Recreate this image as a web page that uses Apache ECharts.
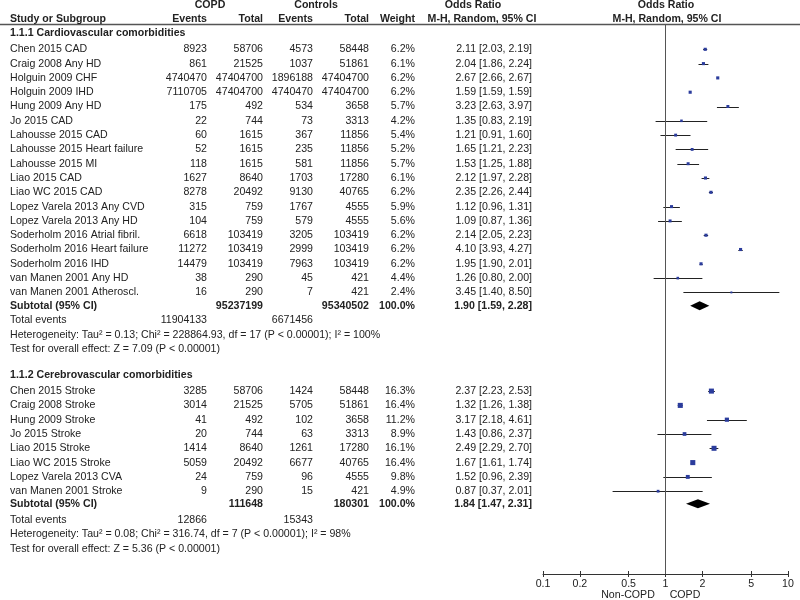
<!DOCTYPE html>
<html><head><meta charset="utf-8">
<script src="https://cdn.jsdelivr.net/npm/echarts@6/dist/echarts.min.js"></script>
<style>html,body{margin:0;padding:0;background:#fff}#c{width:800px;height:600px}</style>
</head><body><div id="c"></div>
<script>
// ---- Data ----
const names1 = ["Chen 2015 CAD","Craig 2008 Any HD","Holguin 2009 CHF","Holguin 2009 IHD","Hung 2009 Any HD","Jo 2015 CAD","Lahousse 2015 CAD","Lahousse 2015 Heart failure","Lahousse 2015 MI","Liao 2015 CAD","Liao WC 2015 CAD","Lopez Varela 2013 Any CVD","Lopez Varela 2013 Any HD","Soderholm 2016 Atrial fibril.","Soderholm 2016 Heart failure","Soderholm 2016 IHD","van Manen 2001 Any HD","van Manen 2001 Atheroscl."];
const copdEv1 = [8923,861,4740470,7110705,175,22,60,52,118,1627,8278,315,104,6618,11272,14479,38,16];
const copdTot1 = [58706,21525,47404700,47404700,492,744,1615,1615,1615,8640,20492,759,759,103419,103419,103419,290,290];
const ctrlEv1 = [4573,1037,1896188,4740470,534,73,367,235,581,1703,9130,1767,579,3205,2999,7963,45,7];
const ctrlTot1 = [58448,51861,47404700,47404700,3658,3313,11856,11856,11856,17280,40765,4555,4555,103419,103419,103419,421,421];
const weight1 = [6.2,6.1,6.2,6.2,5.7,4.2,5.4,5.2,5.7,6.1,6.2,5.9,5.6,6.2,6.2,6.2,4.4,2.4];
const or1 = [2.11,2.04,2.67,1.59,3.23,1.35,1.21,1.65,1.53,2.12,2.35,1.12,1.09,2.14,4.10,1.95,1.26,3.45];
const lo1 = [2.03,1.86,2.66,1.59,2.63,0.83,0.91,1.21,1.25,1.97,2.26,0.96,0.87,2.05,3.93,1.90,0.80,1.40];
const hi1 = [2.19,2.24,2.67,1.59,3.97,2.19,1.60,2.23,1.88,2.28,2.44,1.31,1.36,2.23,4.27,2.01,2.00,8.50];
const sub1 = {copdTot:95237199, ctrlTot:95340502, or:1.90, lo:1.59, hi:2.28, copdEvents:11904133, ctrlEvents:6671456};
const het1 = "Heterogeneity: Tau\u00b2 = 0.13; Chi\u00b2 = 228864.93, df = 17 (P < 0.00001); I\u00b2 = 100%";
const test1 = "Test for overall effect: Z = 7.09 (P < 0.00001)";

const names2 = ["Chen 2015 Stroke","Craig 2008 Stroke","Hung 2009 Stroke","Jo 2015 Stroke","Liao 2015 Stroke","Liao WC 2015 Stroke","Lopez Varela 2013 CVA","van Manen 2001 Stroke"];
const copdEv2 = [3285,3014,41,20,1414,5059,24,9];
const copdTot2 = [58706,21525,492,744,8640,20492,759,290];
const ctrlEv2 = [1424,5705,102,63,1261,6677,96,15];
const ctrlTot2 = [58448,51861,3658,3313,17280,40765,4555,421];
const weight2 = [16.3,16.4,11.2,8.9,16.1,16.4,9.8,4.9];
const or2 = [2.37,1.32,3.17,1.43,2.49,1.67,1.52,0.87];
const lo2 = [2.23,1.26,2.18,0.86,2.29,1.61,0.96,0.37];
const hi2 = [2.53,1.38,4.61,2.37,2.70,1.74,2.39,2.01];
const sub2 = {copdTot:111648, ctrlTot:180301, or:1.84, lo:1.47, hi:2.31, copdEvents:12866, ctrlEvents:15343};
const het2 = "Heterogeneity: Tau\u00b2 = 0.08; Chi\u00b2 = 316.74, df = 7 (P < 0.00001); I\u00b2 = 98%";
const test2 = "Test for overall effect: Z = 5.36 (P < 0.00001)";

const section1 = "1.1.1 Cardiovascular comorbidities";
const section2 = "1.1.2 Cerebrovascular comorbidities";
const tickValues = [0.1,0.2,0.5,1,2,5,10];

// ---- Layout (row positions) ----
const FONT = "Liberation Sans, Arial, Helvetica, sans-serif";
const FS = 10.6;
const COL = {name:10, cEv:207, cTot:263, kEv:313, kTot:369, w:415, or:532};
const fmtCI = (o,l,h)=> o.toFixed(2)+" ["+l.toFixed(2)+", "+h.toFixed(2)+"]";

const textRows = [];
const squares = [], cis = [], diamonds = [];

function buildSection(title, start, names, ce, ct, ke, kt, w, o, l, h, sub, het, test, hdrRow, subRow, totRow) {
  textRows.push({row:hdrRow, bold:true, cells:[[title,COL.name,'left']]});
  names.forEach((n,i)=>{
    const r = start+i;
    textRows.push({row:r, bold:false, cells:[[n,COL.name,'left'],[String(ce[i]),COL.cEv,'right'],[String(ct[i]),COL.cTot,'right'],[String(ke[i]),COL.kEv,'right'],[String(kt[i]),COL.kTot,'right'],[w[i].toFixed(1)+'%',COL.w,'right'],[fmtCI(o[i],l[i],h[i]),COL.or,'right']]});
    squares.push([o[i], r, w[i]]);
    cis.push([l[i], h[i], r]);
  });
  textRows.push({row:subRow, bold:true, cells:[["Subtotal (95% CI)",COL.name,'left'],[String(sub.copdTot),COL.cTot,'right'],[String(sub.ctrlTot),COL.kTot,'right'],['100.0%',COL.w,'right'],[fmtCI(sub.or,sub.lo,sub.hi),COL.or,'right']]});
  diamonds.push([sub.lo, sub.or, sub.hi, subRow]);
  textRows.push({row:totRow, bold:false, cells:[["Total events",COL.name,'left'],[String(sub.copdEvents),COL.cEv,'right'],[String(sub.ctrlEvents),COL.kEv,'right']]});
  textRows.push({row:totRow+1, bold:false, cells:[[het,COL.name,'left']]});
  textRows.push({row:totRow+2, bold:false, cells:[[test,COL.name,'left']]});
}
buildSection(section1, 0, names1, copdEv1, copdTot1, ctrlEv1, ctrlTot1, weight1, or1, lo1, hi1, sub1, het1, test1, -1.12, 17.93, 18.95);
buildSection(section2, 23.9, names2, copdEv2, copdTot2, ctrlEv2, ctrlTot2, weight2, or2, lo2, hi2, sub2, het2, test2, 22.8, 31.78, 32.92);

const chart = echarts.init(document.getElementById('c'), null, {renderer:'canvas'});

const hdr = (text, x, y, align) => ({type:'text', x, y, style:{text, fill:'#222', font:'bold '+FS+'px '+FONT, align, verticalAlign:'middle'}});

const option = {
  animation:false,
  backgroundColor:'#fff',
  grid:{left:543, right:12, top:24, bottom:26, containLabel:false},
  xAxis:[{
    type:'log', logBase:10, min:0.1, max:10, position:'bottom',
    axisLine:{show:true, onZero:false, lineStyle:{color:'#333', width:1}},
    axisTick:{show:true, length:3, customValues:tickValues, lineStyle:{color:'#333'}},
    axisLabel:{show:true, customValues:tickValues, margin:5, color:'#222', fontSize:FS, fontFamily:FONT, formatter:v=>String(Number((+v).toPrecision(6)))},
    splitLine:{show:false}
  },{
    type:'log', logBase:10, min:0.1, max:10, position:'bottom', gridIndex:0, offset:0,
    axisLine:{show:false, onZero:false},
    axisTick:{show:true, inside:true, length:3, customValues:tickValues, lineStyle:{color:'#333'}},
    axisLabel:{show:false}, splitLine:{show:false}
  }],
  yAxis:{type:'value', inverse:true, min:-1.77, max:36.69, show:false},
  graphic:[
    {type:'line', shape:{x1:0,y1:24.5,x2:800,y2:24.5}, style:{stroke:'#555', lineWidth:1.5}},
    hdr('COPD',210,5,'center'), hdr('Controls',316,5,'center'), hdr('Odds Ratio',473,5,'center'), hdr('Odds Ratio',666,5,'center'),
    hdr('Study or Subgroup',10,19,'left'), hdr('Events',207,19,'right'), hdr('Total',263,19,'right'), hdr('Events',313,19,'right'), hdr('Total',369,19,'right'), hdr('Weight',415,19,'right'),
    hdr('M-H, Random, 95% CI',482,19,'center'), hdr('M-H, Random, 95% CI',667,19,'center'),
    {type:'text', x:628, y:595, style:{text:'Non-COPD', fill:'#222', font:FS+'px '+FONT, align:'center', verticalAlign:'middle'}},
    {type:'text', x:685, y:595, style:{text:'COPD', fill:'#222', font:FS+'px '+FONT, align:'center', verticalAlign:'middle'}}
  ],
  series:[
    {
      type:'custom', name:'ci', xAxisIndex:0, yAxisIndex:0, z:2,
      data:cis, encode:{x:[0,1], y:2},
      renderItem:(params, api)=>{
        const a = api.coord([api.value(0), api.value(2)]);
        const b = api.coord([api.value(1), api.value(2)]);
        return {type:'line', shape:{x1:a[0], y1:Math.round(a[1])+0.5, x2:b[0], y2:Math.round(a[1])+0.5}, style:{stroke:'#222', lineWidth:1}};
      }
    },
    {
      type:'scatter', name:'or', z:3,
      data:squares, symbol:'rect',
      symbolSize:(v)=>1.25*Math.sqrt(v[2]),
      itemStyle:{color:'#2b3c9c', opacity:1},
      emphasis:{disabled:true},
      markLine:{silent:true, symbol:'none', animation:false, label:{show:false},
        lineStyle:{color:'#555', width:1, type:'solid'}, data:[{xAxis:1}]}
    },
    {
      type:'custom', name:'diamond', z:4,
      data:diamonds, encode:{x:[0,1,2], y:3},
      renderItem:(params, api)=>{
        const r = api.value(3);
        const L = api.coord([api.value(0), r]);
        const M = api.coord([api.value(1), r]);
        const R = api.coord([api.value(2), r]);
        const hh = 4.5;
        return {type:'polygon', shape:{points:[[L[0],L[1]],[M[0],M[1]-hh],[R[0],R[1]],[M[0],M[1]+hh]]}, style:{fill:'#000'}};
      }
    },
    {
      type:'custom', name:'table', z:5, clip:false,
      data:textRows.map((t,i)=>[1, t.row, i]), encode:{x:0, y:1},
      renderItem:(params, api)=>{
        const t = textRows[api.value(2)];
        const y = api.coord([1, t.row])[1];
        return {type:'group', children:t.cells.map(c=>({type:'text', x:c[1], y:y, style:{text:c[0], fill:'#222', font:(t.bold?'bold ':'')+FS+'px '+FONT, align:c[2], verticalAlign:'middle'}}))};
      }
    }
  ]
};
chart.setOption(option);
</script>
</body></html>
